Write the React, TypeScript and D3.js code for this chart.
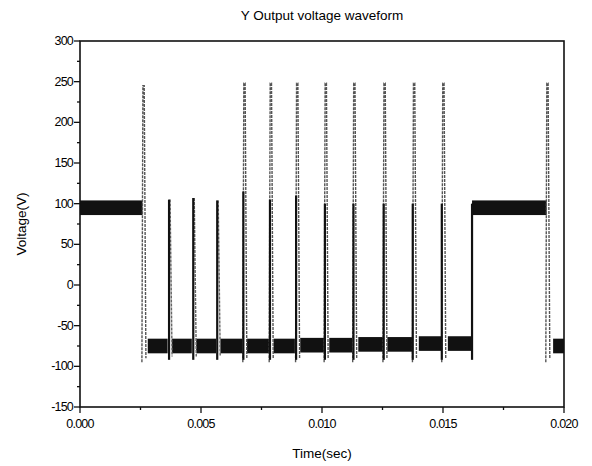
import React from "react";
import * as d3 from "d3";

const yTicks = [300, 250, 200, 150, 100, 50, 0, -50, -100, -150];
const xTicks = [0, 0.005, 0.01, 0.015, 0.02];
const xTickLabels = ["0.000", "0.005", "0.010", "0.015", "0.020"];
// plateaus: [start, end, level]
const plateaus: [number, number, number][] = [
  [0, 0.00258, 95], [0.0028, 0.00362, -75], [0.0038, 0.00462, -75], [0.0048, 0.00562, -75],
  [0.0058, 0.00672, -75], [0.0069, 0.00782, -75], [0.008, 0.00888, -75], [0.0091, 0.01008, -74],
  [0.0103, 0.01126, -74], [0.0115, 0.01252, -73], [0.0127, 0.01372, -73], [0.014, 0.01494, -72],
  [0.0152, 0.0162, -72], [0.0162, 0.01928, 95], [0.01955, 0.02, -75],
];
// black rising edges: [time, top]
const edges: [number, number][] = [
  [0.00368, 105], [0.00468, 107], [0.00567, 104], [0.00675, 115], [0.00785, 105],
  [0.00893, 110], [0.01012, 100], [0.0113, 100], [0.01255, 100], [0.01375, 100],
  [0.01495, 100], [0.0162, 100],
];
// gray spikes: [time, peak]
const spikes: [number, number][] = [
  [0.00262, 245], [0.00679, 248], [0.00788, 248], [0.00897, 248], [0.01015, 248],
  [0.01133, 248], [0.01258, 248], [0.0138, 248], [0.01501, 248], [0.01931, 248],
];
const shortFalls: [number, number][] = [[0.00368, 105], [0.00468, 107], [0.00567, 104]];

export default function App() {
  const x = d3.scaleLinear().domain([0, 0.02]).range([80, 564]);
  const y = d3.scaleLinear().domain([-150, 300]).range([407, 41]);
  const minorX = d3.range(0, 0.0201, 0.0025);
  const minorY = d3.range(-150, 301, 25);
  const font = "Liberation Sans, Arial, sans-serif";
  return (
    <svg width={592} height={466} style={{ position: "absolute", left: 0, top: 0, background: "#fff" }} fontFamily={font}>
      <rect x={0} y={0} width={592} height={466} fill="#fff" />
      {plateaus.map(([a, b, v], i) => (
        <rect key={"p" + i} x={x(a)} y={y(v + 9)} width={x(b) - x(a)} height={y(v - 9) - y(v + 9)} fill="#111" />
      ))}
      {spikes.map(([t, p], i) => (
        <path key={"s" + i}
          d={`M${x(t) - 1.5},${y(-95)} L${x(t) - 0.5},${y(p)} L${x(t) + 0.8},${y(p)} L${x(t) + 2.5},${y(-90)}`}
          fill="none" stroke="#555" strokeWidth={1.4} strokeDasharray="3 1" />
      ))}
      {shortFalls.map(([t, p], i) => (
        <line key={"f" + i} x1={x(t) + 1} y1={y(p)} x2={x(t) + 3} y2={y(-88)} stroke="#666" strokeWidth={1.4} strokeDasharray="3 1" />
      ))}
      {edges.map(([t, top], i) => (
        <line key={"e" + i} x1={x(t)} y1={y(-92)} x2={x(t)} y2={y(top)} stroke="#111" strokeWidth={2.2} />
      ))}
      <rect x={80} y={41} width={484} height={366} fill="none" stroke="#111" strokeWidth={1.6} />
      {minorX.map((t, i) => (
        <line key={"mx" + i} x1={x(t)} x2={x(t)} y1={407} y2={407 + (i % 2 === 0 ? 6 : 3)} stroke="#111" strokeWidth={1.3} />
      ))}
      {minorY.map((v, i) => (
        <line key={"my" + i} x1={80} x2={80 - (i % 2 === 0 ? 6 : 3)} y1={y(v)} y2={y(v)} stroke="#111" strokeWidth={1.3} />
      ))}
      {yTicks.map((v) => (
        <text key={"yt" + v} x={73} y={y(v) + 4} textAnchor="end" fontSize={12.5} letterSpacing={-0.8}>{v}</text>
      ))}
      {xTicks.map((t, i) => (
        <text key={"xt" + i} x={x(t)} y={428} textAnchor="middle" fontSize={12.5} letterSpacing={-0.8}>{xTickLabels[i]}</text>
      ))}
      <text x={322} y={20} textAnchor="middle" fontSize={13.5}>Y Output voltage waveform</text>
      <text x={322} y={458} textAnchor="middle" fontSize={13.5}>Time(sec)</text>
      <text transform={`translate(26,${y(75)}) rotate(-90)`} textAnchor="middle" fontSize={13.5}>Voltage(V)</text>
    </svg>
  );
}
